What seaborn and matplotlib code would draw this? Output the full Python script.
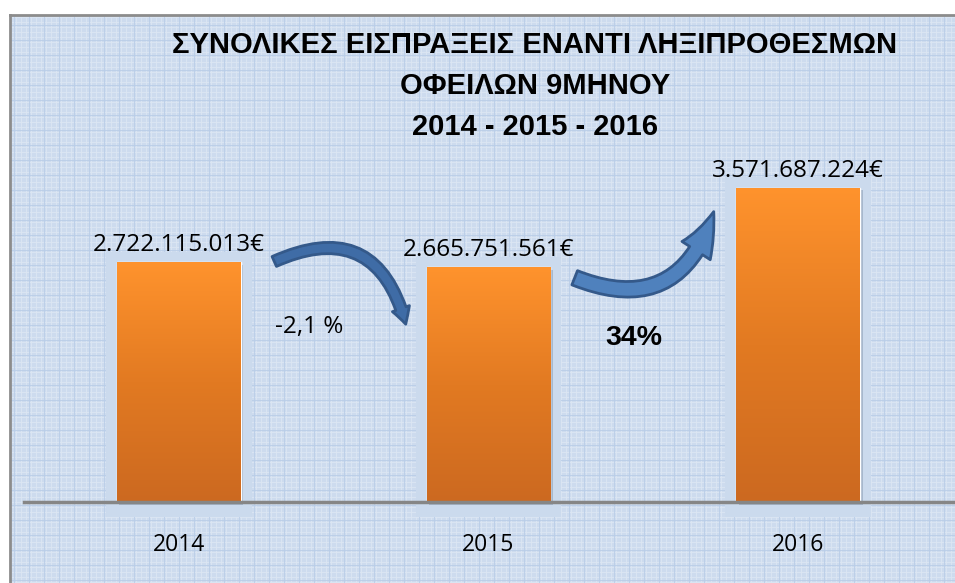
import numpy as np
import pandas as pd
import seaborn as sns
from matplotlib import pyplot as plt
from matplotlib.patches import Rectangle, FancyArrowPatch, ArrowStyle
from matplotlib.colors import LinearSegmentedColormap

sns.set_style('white')
plt.rcParams['font.family'] = ['Open Sans', 'DejaVu Sans']
plt.rcParams['text.color'] = 'black'
plt.rcParams['xtick.color'] = 'black'

years = ['2014', '2015', '2016']
values = [2722115013, 2665751561, 3571687224]
labels = ['2.722.115.013€', '2.665.751.561€', '3.571.687.224€']
changes = ['-2,1 %', '34%']
title = ('ΣΥΝΟΛΙΚΕΣ ΕΙΣΠΡΑΞΕΙΣ ΕΝΑΝΤΙ ΛΗΞΙΠΡΟΘΕΣΜΩΝ\n'
         'ΟΦΕΙΛΩΝ 9ΜΗΝΟΥ\n2014 - 2015 - 2016')

df = pd.DataFrame({'year': years, 'value': values})

W, H = 955, 583
fig = plt.figure(figsize=(W / 100, H / 100), dpi=100)
fig.patch.set_facecolor('white')

# chart area background with fine grid pattern
bg = fig.add_axes([10 / W, 0, 945 / W, 568 / H], zorder=0)
bg.set_xlim(0, 945)
bg.set_ylim(0, 568)
bg.set_facecolor('#cddbee')
xs = np.arange(1, 945, 5)
ys = np.arange(1, 568, 5)
bg.vlines(xs, 0, 568, color='#dce6f3', lw=0.6)
bg.hlines(ys, 0, 945, color='#dce6f3', lw=0.6)
bg.vlines(xs[::3] + 2.5, 0, 568, color='#b9cde8', lw=0.6)
bg.hlines(ys[::3] + 2.5, 0, 945, color='#b9cde8', lw=0.6)
bg.set_xticks([])
bg.set_yticks([])
for side in ['right', 'bottom']:
    bg.spines[side].set_visible(False)
for side in ['left', 'top']:
    bg.spines[side].set_color('#8c8c8c')
    bg.spines[side].set_linewidth(2)

ax = fig.add_axes([24 / W, 81 / H, 929 / W, 352 / H], zorder=1)
ax.patch.set_alpha(0)
sns.barplot(data=df, x='year', y='value', width=0.4, color='#f7902c',
            ax=ax, zorder=3)

# gradient fill + halo for each bar
grad = np.linspace(0, 1, 256).reshape(-1, 1)
cmap = LinearSegmentedColormap.from_list('bar', ['#cc6920', '#e27a22', '#ff932d'])
for bar in ax.patches[:]:
    x0, w, h = bar.get_x(), bar.get_width(), bar.get_height()
    halo = Rectangle((x0 - 0.035, -0.17e9), w + 0.07, h + 0.17e9 + 0.12e9,
                     facecolor='#cbdaed', edgecolor='none', zorder=1,
                     clip_on=False)
    ax.add_patch(halo)
    shadow = Rectangle((x0 + 0.008, -0.03e9), w, h, facecolor='#9fb0c6',
                       edgecolor='none', zorder=2, alpha=0.8, clip_on=False)
    ax.add_patch(shadow)
    img = ax.imshow(grad, cmap=cmap, aspect='auto', origin='lower',
                    extent=[x0, x0 + w, 0, h], zorder=3.5)
    img.set_clip_path(bar)
ax.set_xlim(-0.5, 2.5)
ax.set_ylim(0, 4e9)

for i, (v, lab) in enumerate(zip(values, labels)):
    ax.annotate(lab, (i, v), xytext=(0, 8), textcoords='offset points',
                ha='center', va='baseline', fontsize=17.5, color='black')

ax.text(0.42, 1.99e9, changes[0], ha='center', va='center', fontsize=17.5)
ax.text(1.47, 1.86e9, changes[1], ha='center', va='center', fontsize=20.5,
        fontweight='bold', family='Liberation Sans')

style1 = ArrowStyle.Simple(head_length=0.9, head_width=1.0, tail_width=0.6)
a1 = FancyArrowPatch((0.30, 2.72e9), (0.735, 1.99e9),
                     connectionstyle='arc3,rad=-0.6', arrowstyle=style1,
                     mutation_scale=13, facecolor='#3f6ca6',
                     edgecolor='#34598a', lw=2, zorder=5)
ax.add_patch(a1)
style2 = ArrowStyle.Simple(head_length=1.4, head_width=1.1, tail_width=0.5)
a2 = FancyArrowPatch((1.27, 2.56e9), (1.73, 3.33e9),
                     connectionstyle='arc3,rad=0.55', arrowstyle=style2,
                     mutation_scale=22, facecolor='#4f81bd',
                     edgecolor='#34598a', lw=2, zorder=5)
ax.add_patch(a2)

ax.set_xlabel('')
ax.set_ylabel('')
ax.set_yticks([])
ax.tick_params(axis='x', length=0, pad=22, labelsize=16.5)
for side in ['left', 'right', 'top']:
    ax.spines[side].set_visible(False)
ax.spines['bottom'].set_color('#868686')
ax.spines['bottom'].set_linewidth(2.5)
ax.spines['bottom'].set_zorder(4)

fig.text(535 / W, 1 - 86 / H, title, ha='center', va='center',
         fontsize=21, fontweight='bold', linespacing=1.6,
         family='Liberation Sans', color='black')

fig.savefig('out.png', dpi=100)
